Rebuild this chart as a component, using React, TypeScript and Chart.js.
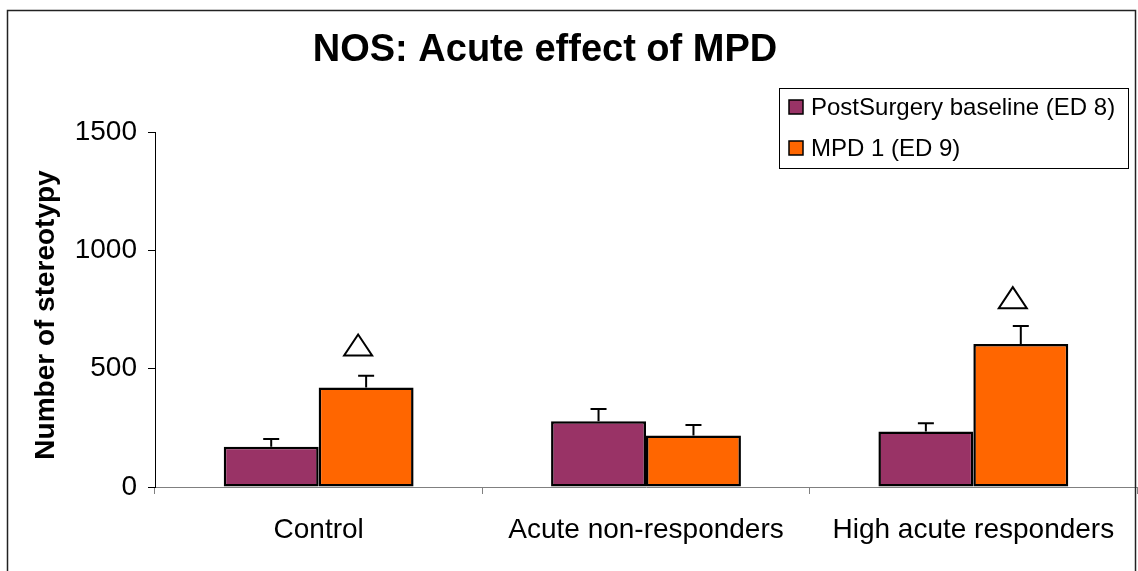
import React, { useEffect, useRef } from "react";
import { Chart, registerables } from "chart.js";

Chart.register(...registerables);

const chartTitle = "NOS: Acute effect of MPD";
const yAxisTitle = "Number of stereotypy";
const categories = ["Control", "Acute non-responders", "High acute responders"];
const seriesLabels = ["PostSurgery baseline (ED 8)", "MPD 1 (ED 9)"];
const seriesColors = ["#993366", "#FF6600"];
const baselineValues = [170, 278, 235];
const mpdValues = [420, 218, 604];
const baselineErrors = [33, 52, 34];
const mpdErrors = [50, 44, 76];
const significanceMarks: (number | null)[] = [600, null, 800];
const yTicks = [0, 500, 1000, 1500];

const FONT = "'Liberation Sans', Arial, Helvetica, sans-serif";

export default function App() {
  const canvasRef = useRef<HTMLCanvasElement | null>(null);

  useEffect(() => {
    const canvas = canvasRef.current;
    if (!canvas) return;
    const errors = [baselineErrors, mpdErrors];

    const decorPlugin = {
      id: "decor",
      beforeDraw(chart: any) {
        const ctx = chart.ctx;
        ctx.save();
        ctx.fillStyle = "#ffffff";
        ctx.fillRect(0, 0, chart.width, chart.height);
        ctx.restore();
      },
      afterDatasetsDraw(chart: any) {
        const ctx = chart.ctx;
        const y = chart.scales.y;
        ctx.save();
        ctx.strokeStyle = "#000";
        ctx.lineWidth = 2;
        chart.data.datasets.forEach((ds: any, di: number) => {
          const meta = chart.getDatasetMeta(di);
          meta.data.forEach((bar: any, i: number) => {
            const v = ds.data[i];
            const top = y.getPixelForValue(v + errors[di][i]);
            ctx.beginPath();
            ctx.moveTo(bar.x, bar.y);
            ctx.lineTo(bar.x, top);
            ctx.moveTo(bar.x - 8, top);
            ctx.lineTo(bar.x + 8, top);
            ctx.stroke();
          });
        });
        // significance triangles above MPD bars
        const meta1 = chart.getDatasetMeta(1);
        ctx.lineWidth = 2;
        significanceMarks.forEach((m, i) => {
          if (m == null) return;
          const bar: any = meta1.data[i];
          const cx = bar.x - 8;
          const cy = y.getPixelForValue(m);
          const w = 28;
          const h = 21;
          ctx.beginPath();
          ctx.moveTo(cx, cy - h / 2);
          ctx.lineTo(cx + w / 2, cy + h / 2);
          ctx.lineTo(cx - w / 2, cy + h / 2);
          ctx.closePath();
          ctx.fillStyle = "#fff";
          ctx.fill();
          ctx.stroke();
        });
        ctx.restore();
      },
      afterDraw(chart: any) {
        const ctx = chart.ctx;
        ctx.save();
        // frame
        ctx.strokeStyle = "#222";
        ctx.lineWidth = 1.5;
        ctx.strokeRect(7.5, 10.5, 1128, 620);
        // title
        ctx.fillStyle = "#000";
        ctx.font = `bold 38px ${FONT}`;
        ctx.textAlign = "center";
        ctx.textBaseline = "middle";
        ctx.fillText(chartTitle, 545, 51);
        // y title
        ctx.save();
        ctx.translate(46, 315);
        ctx.rotate(-Math.PI / 2);
        ctx.font = `bold 28px ${FONT}`;
        ctx.fillText(yAxisTitle, 0, 0);
        ctx.restore();
        // legend
        ctx.lineWidth = 1;
        ctx.strokeStyle = "#000";
        ctx.strokeRect(779.5, 88.5, 349, 80);
        ctx.font = `24px ${FONT}`;
        ctx.textAlign = "left";
        ctx.textBaseline = "middle";
        chart.data.datasets.forEach((ds: any, di: number) => {
          const cy = 107 + di * 41;
          ctx.fillStyle = ds.backgroundColor;
          ctx.fillRect(789, cy - 7, 14, 14);
          ctx.lineWidth = 1.5;
          ctx.strokeRect(789, cy - 7, 14, 14);
          ctx.fillStyle = "#000";
          ctx.fillText(ds.label, 811, cy + 1);
        });
        ctx.restore();
      },
    };

    const chart = new Chart(canvas, {
      type: "bar",
      data: {
        labels: categories,
        datasets: [
          {
            label: seriesLabels[0],
            data: baselineValues,
            backgroundColor: seriesColors[0],
            borderColor: "#000",
            borderWidth: 2.5,
            borderSkipped: false,
            categoryPercentage: 0.58,
            barPercentage: 1,
          },
          {
            label: seriesLabels[1],
            data: mpdValues,
            backgroundColor: seriesColors[1],
            borderColor: "#000",
            borderWidth: 2.5,
            borderSkipped: false,
            categoryPercentage: 0.58,
            barPercentage: 1,
          },
        ],
      },
      options: {
        responsive: false,
        animation: false,
        devicePixelRatio: 1,
        layout: { padding: { top: 132, left: 0, right: 1, bottom: 0 } },
        plugins: {
          legend: { display: false },
          title: { display: false },
          tooltip: { enabled: false },
        },
        scales: {
          x: {
            afterFit(scale: any) {
              scale.height = 84;
            },
            grid: {
              display: true,
              drawOnChartArea: false,
              drawTicks: true,
              tickLength: 7,
              color: "#808080",
              offset: true,
            },
            border: { display: true, color: "#808080", width: 1 },
            ticks: {
              color: "#000",
              font: { family: FONT, size: 28 },
              padding: 19,
              maxRotation: 0,
              autoSkip: false,
            },
          },
          y: {
            min: 0,
            max: 1500,
            afterFit(scale: any) {
              scale.width = 155;
            },
            afterBuildTicks(scale: any) {
              scale.ticks = yTicks.map((v) => ({ value: v }));
            },
            grid: {
              display: true,
              drawOnChartArea: false,
              drawTicks: true,
              tickLength: 7,
              color: "#000",
            },
            border: { display: true, color: "#000", width: 1 },
            ticks: {
              color: "#000",
              font: { family: FONT, size: 28 },
              padding: 11,
              callback: (v: any) => String(v),
            },
          },
        },
      },
      plugins: [decorPlugin],
    });

    return () => chart.destroy();
  }, []);

  return (
    <div style={{ position: "fixed", left: 0, top: 0, width: 1138, height: 571 }}>
      <canvas ref={canvasRef} width={1138} height={571} style={{ display: "block" }} />
    </div>
  );
}
